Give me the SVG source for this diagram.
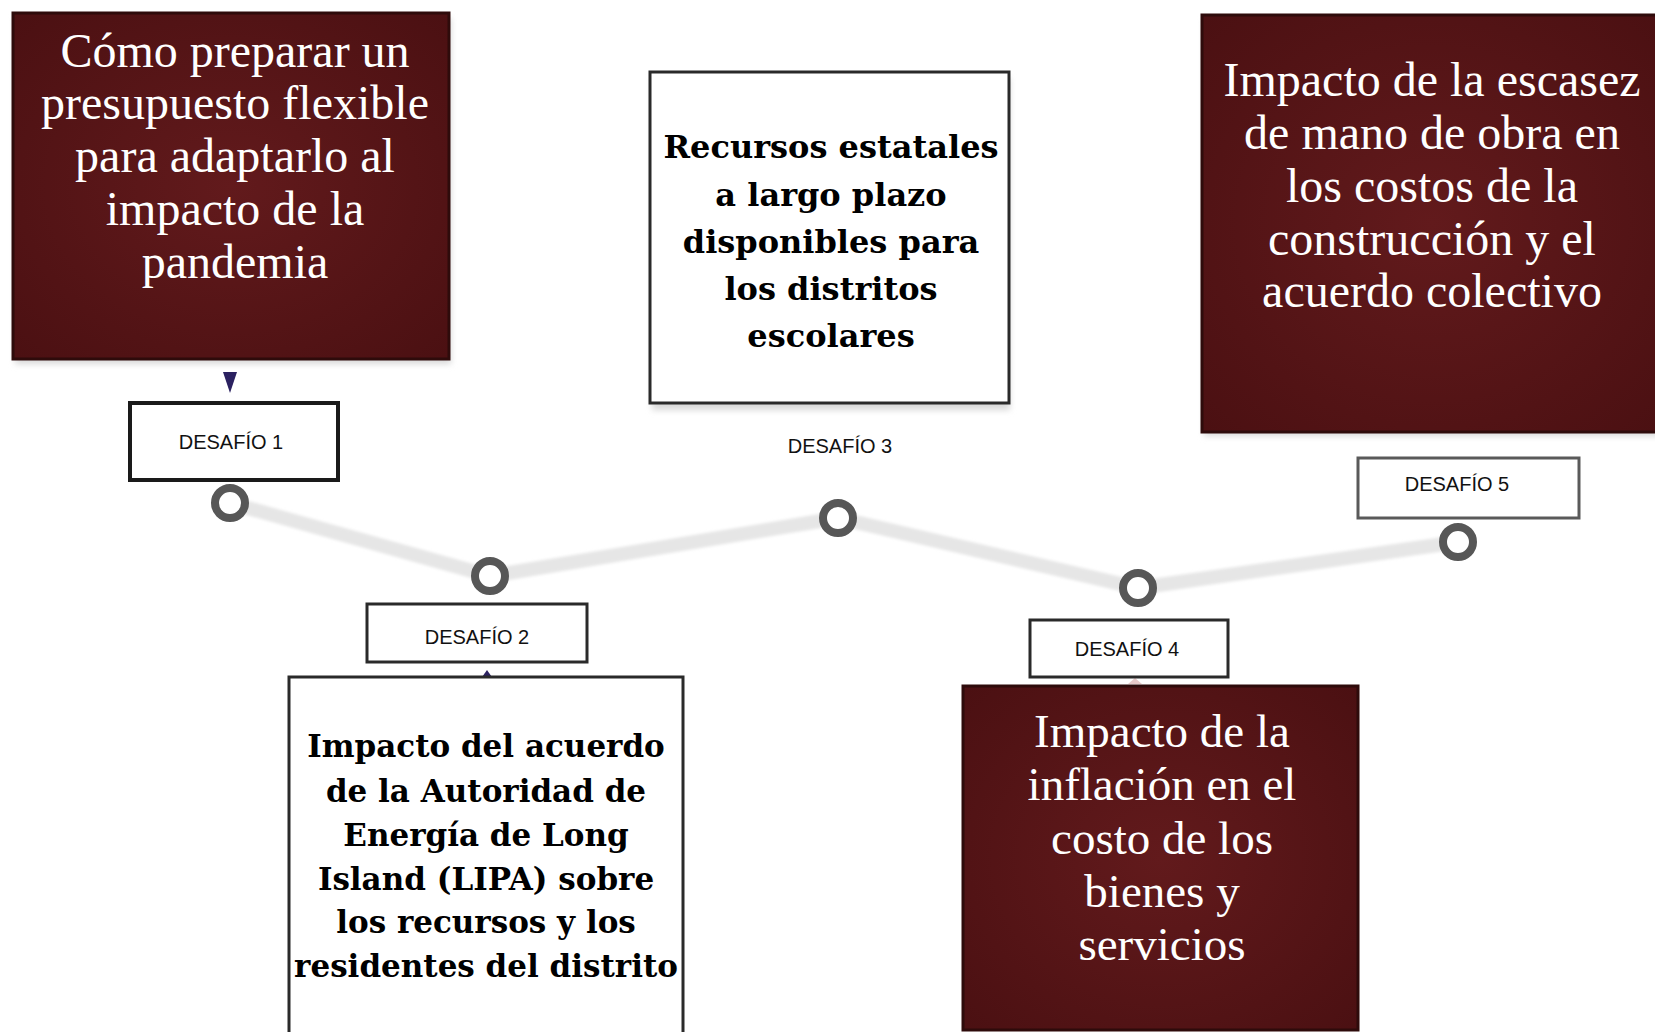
<svg xmlns="http://www.w3.org/2000/svg" width="1655" height="1032" viewBox="0 0 1655 1032">
  <defs>
    <radialGradient id="maroon" cx="50%" cy="50%" r="70%">
      <stop offset="0" stop-color="#621a1c"/>
      <stop offset="1" stop-color="#4b1012"/>
    </radialGradient>
    <filter id="soft" x="-10%" y="-10%" width="120%" height="130%">
      <feGaussianBlur stdDeviation="3"/>
    </filter>
    <filter id="blur1" x="-5%" y="-50%" width="110%" height="200%">
      <feGaussianBlur stdDeviation="1.5"/>
    </filter>
    <style>
      .dark{fill:url(#maroon);stroke:#2e0b0b;stroke-width:3}
      .card{fill:#fff;stroke:#2a2a2a;stroke-width:3}
      .shadow{fill:#d8d8d8;filter:url(#soft)}
      .wt{font-family:"Liberation Serif","Times New Roman",serif;font-size:48px;fill:#fff;text-anchor:middle}
      .bt{font-family:"DejaVu Serif",serif;font-weight:bold;font-size:31px;fill:#000;text-anchor:middle}
      .lbl{fill:#fff;stroke:#2a2a2a;stroke-width:3}
      .lt{font-family:"Liberation Sans",Arial,sans-serif;font-size:20px;fill:#111;text-anchor:middle}
      .ring{fill:#fff;stroke:#575757;stroke-width:8}
      .band{fill:none;stroke:#e6e6e6;stroke-width:14;stroke-linejoin:round;stroke-linecap:round;filter:url(#blur1)}
    </style>
  </defs>
  <rect width="1655" height="1032" fill="#fff"/>

  <g id="connectors">
    <polyline class="band" points="230,503 490,576 838,518 1138,588 1458,542"/>
    <polygon points="223,372 237,372 230,393" fill="#2b2160"/>
    <polygon points="480,680 494,680 487,670" fill="#2b2160"/>
    <polygon points="1128,684 1142,684 1135,678" fill="#e7c9c9"/>
  </g>

  <g id="box1">
    <rect class="shadow" x="15" y="18" width="436" height="346"/>
    <rect class="dark" x="13" y="13" width="436" height="346"/>
    <text class="wt" x="235" y="67">Cómo preparar un</text>
    <text class="wt" x="235" y="119">presupuesto flexible</text>
    <text class="wt" x="235" y="172">para adaptarlo al</text>
    <text class="wt" x="235" y="225">impacto de la</text>
    <text class="wt" x="235" y="278">pandemia</text>
  </g>

  <g id="box3">
    <rect class="shadow" x="652" y="78" width="358" height="332"/>
    <rect class="card" x="650" y="72" width="359" height="331"/>
    <text class="bt" x="831" y="158" style="font-size:32px">Recursos estatales</text>
    <text class="bt" x="831" y="206" style="font-size:32px">a largo plazo</text>
    <text class="bt" x="831" y="253" style="font-size:32px">disponibles para</text>
    <text class="bt" x="831" y="300" style="font-size:32px">los distritos</text>
    <text class="bt" x="831" y="347" style="font-size:32px">escolares</text>
  </g>

  <g id="box5">
    <rect class="shadow" x="1204" y="20" width="460" height="416"/>
    <rect class="dark" x="1202" y="15" width="460" height="417"/>
    <text class="wt" x="1432" y="96">Impacto de la escasez</text>
    <text class="wt" x="1432" y="149">de mano de obra en</text>
    <text class="wt" x="1432" y="202">los costos de la</text>
    <text class="wt" x="1432" y="255">construcción y el</text>
    <text class="wt" x="1432" y="307">acuerdo colectivo</text>
  </g>

  <g id="box2">
    <rect class="card" x="289" y="677" width="394" height="370" stroke="#555"/>
    <text class="bt" x="486" y="757">Impacto del acuerdo</text>
    <text class="bt" x="486" y="802">de la Autoridad de</text>
    <text class="bt" x="486" y="846">Energía de Long</text>
    <text class="bt" x="486" y="890">Island (LIPA) sobre</text>
    <text class="bt" x="486" y="933">los recursos y los</text>
    <text class="bt" x="486" y="977">residentes del distrito</text>
  </g>

  <g id="box4">
    <rect class="dark" x="963" y="686" width="395" height="344"/>
    <text class="wt" x="1162" y="747" style="font-size:47px">Impacto de la</text>
    <text class="wt" x="1162" y="800" style="font-size:47px">inflación en el</text>
    <text class="wt" x="1162" y="854" style="font-size:47px">costo de los</text>
    <text class="wt" x="1162" y="907" style="font-size:47px">bienes y</text>
    <text class="wt" x="1162" y="960" style="font-size:47px">servicios</text>
  </g>

  <g id="desafio1">
    <rect class="lbl" x="130" y="403" width="208" height="77" style="stroke-width:4;stroke:#1a1a1a"/>
    <text class="lt" x="231" y="449">DESAFÍO 1</text>
    <circle class="ring" cx="230" cy="503" r="15"/>
  </g>

  <g id="desafio2">
    <rect class="lbl" x="367" y="604" width="220" height="58" stroke="#4a4a4a"/>
    <text class="lt" x="477" y="644">DESAFÍO 2</text>
    <circle class="ring" cx="490" cy="576" r="15"/>
  </g>

  <g id="desafio3">
    <text class="lt" x="840" y="453">DESAFÍO 3</text>
    <circle class="ring" cx="838" cy="518" r="15"/>
  </g>

  <g id="desafio4">
    <rect class="lbl" x="1030" y="620" width="198" height="57"/>
    <text class="lt" x="1127" y="656">DESAFÍO 4</text>
    <circle class="ring" cx="1138" cy="588" r="15"/>
  </g>

  <g id="desafio5">
    <rect class="lbl" x="1358" y="458" width="221" height="60" style="stroke:#5a5a5a"/>
    <text class="lt" x="1457" y="491">DESAFÍO 5</text>
    <circle class="ring" cx="1458" cy="542" r="15"/>
  </g>
</svg>
